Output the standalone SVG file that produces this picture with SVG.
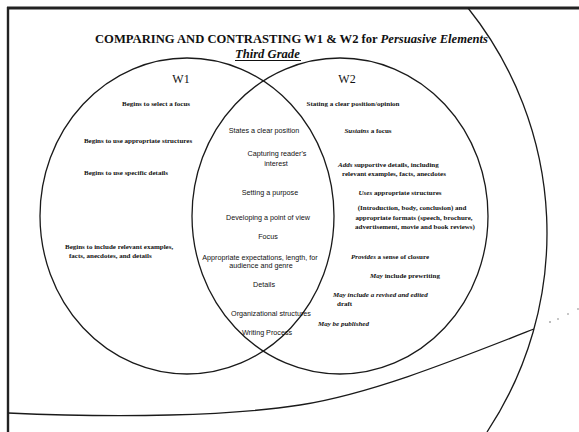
<svg xmlns="http://www.w3.org/2000/svg" width="579" height="432" viewBox="0 0 579 432">
<style>
.ln{fill:none;stroke:#1a1a1a;stroke-width:1.3}
.s{font-family:"Liberation Serif","Times New Roman",serif;font-size:7px;font-weight:bold;fill:#111}
.m{font-family:"Liberation Sans",Arial,sans-serif;font-size:7.2px;fill:#111}
.c{text-anchor:middle}
.i{font-style:italic}
.t{font-family:"Liberation Serif","Times New Roman",serif;font-weight:bold;font-size:12.6px;fill:#111}
.w{font-family:"Liberation Serif","Times New Roman",serif;font-size:12px;fill:#111;text-anchor:middle}
</style>
<rect width="579" height="432" fill="#fff"/>
<g id="frame">
<line x1="7" y1="8" x2="579" y2="8" stroke="#222" stroke-width="3"/>
<line x1="8" y1="7" x2="8" y2="432" stroke="#222" stroke-width="2.4"/>
<path class="ln" d="M8,413 C120,418 230,416 300,405 C370,394 450,362 534,329"/>
<path class="ln" d="M468,8 A360,360 0 0 1 487,432"/>
<g fill="#666"><circle cx="550" cy="322" r="0.8"/><circle cx="558" cy="319" r="0.7"/><circle cx="568" cy="314" r="0.7"/><circle cx="578" cy="309" r="0.7"/></g>
</g>
<g id="title">
<text class="t" x="95" y="43">COMPARING AND CONTRASTING W1 &amp; W2 for <tspan font-style="italic">Persuasive Elements</tspan></text>
<text class="t i" x="235" y="58">Third Grade</text>
<line x1="235" y1="60.5" x2="301" y2="60.5" stroke="#111" stroke-width="1"/>
</g>
<g id="connectors"></g>
<g id="w1">
<ellipse class="ln" cx="187" cy="216" rx="147" ry="158"/>
<text class="w" x="181" y="83">W1</text>
<text class="s c" x="156" y="105.5">Begins to select a focus</text>
<text class="s c" x="138" y="142.5">Begins to use appropriate structures</text>
<text class="s c" x="126" y="174.5">Begins to use specific details</text>
<text class="s" x="65" y="248.5">Begins to include relevant examples,</text>
<text class="s" x="69" y="257.5">facts, anecdotes, and details</text>
</g>
<g id="w2">
<ellipse class="ln" cx="340" cy="216" rx="148" ry="158"/>
<text class="w" x="347" y="83">W2</text>
<text class="s c" x="353" y="105.5">Stating a clear position/opinion</text>
<text class="s c" x="368" y="132.5"><tspan class="i">Sustains</tspan> a focus</text>
<text class="s" x="338" y="166.5"><tspan class="i">Adds</tspan> supportive details, including</text>
<text class="s" x="342" y="175.5">relevant examples, facts, anecdotes</text>
<text class="s c" x="400" y="194.5"><tspan class="i">Uses</tspan> appropriate structures</text>
<text class="s c" x="412" y="209.5">(Introduction, body, conclusion) and</text>
<text class="s c" x="414" y="219.5">appropriate formats (speech, brochure,</text>
<text class="s c" x="415" y="228.5">advertisement, movie and book reviews)</text>
<text class="s c" x="390" y="258.5"><tspan class="i">Provides</tspan> a sense of closure</text>
<text class="s c" x="405" y="277.5"><tspan class="i">May</tspan> include prewriting</text>
<text class="s i" x="333" y="296.5">May include a revised and edited</text>
<text class="s" x="337" y="305.5">draft</text>
<text class="s i" x="318" y="325.5">May be published</text>
</g>
<g id="both">
<text class="m c" x="264" y="132.5">States a clear position</text>
<text class="m c" x="277" y="155.5">Capturing reader's</text>
<text class="m c" x="276" y="165.5">interest</text>
<text class="m c" x="270" y="194.5">Setting a purpose</text>
<text class="m c" x="268" y="219.5">Developing a point of view</text>
<text class="m c" x="268" y="238.5">Focus</text>
<text class="m c" x="260" y="259.5">Appropriate expectations, length, for</text>
<text class="m c" x="261" y="268">audience and genre</text>
<text class="m c" x="264" y="286.5">Details</text>
<text class="m c" x="271" y="315.5">Organizational structures</text>
<text class="m c" x="267" y="334.5">Writing Process</text>
</g>
</svg>
